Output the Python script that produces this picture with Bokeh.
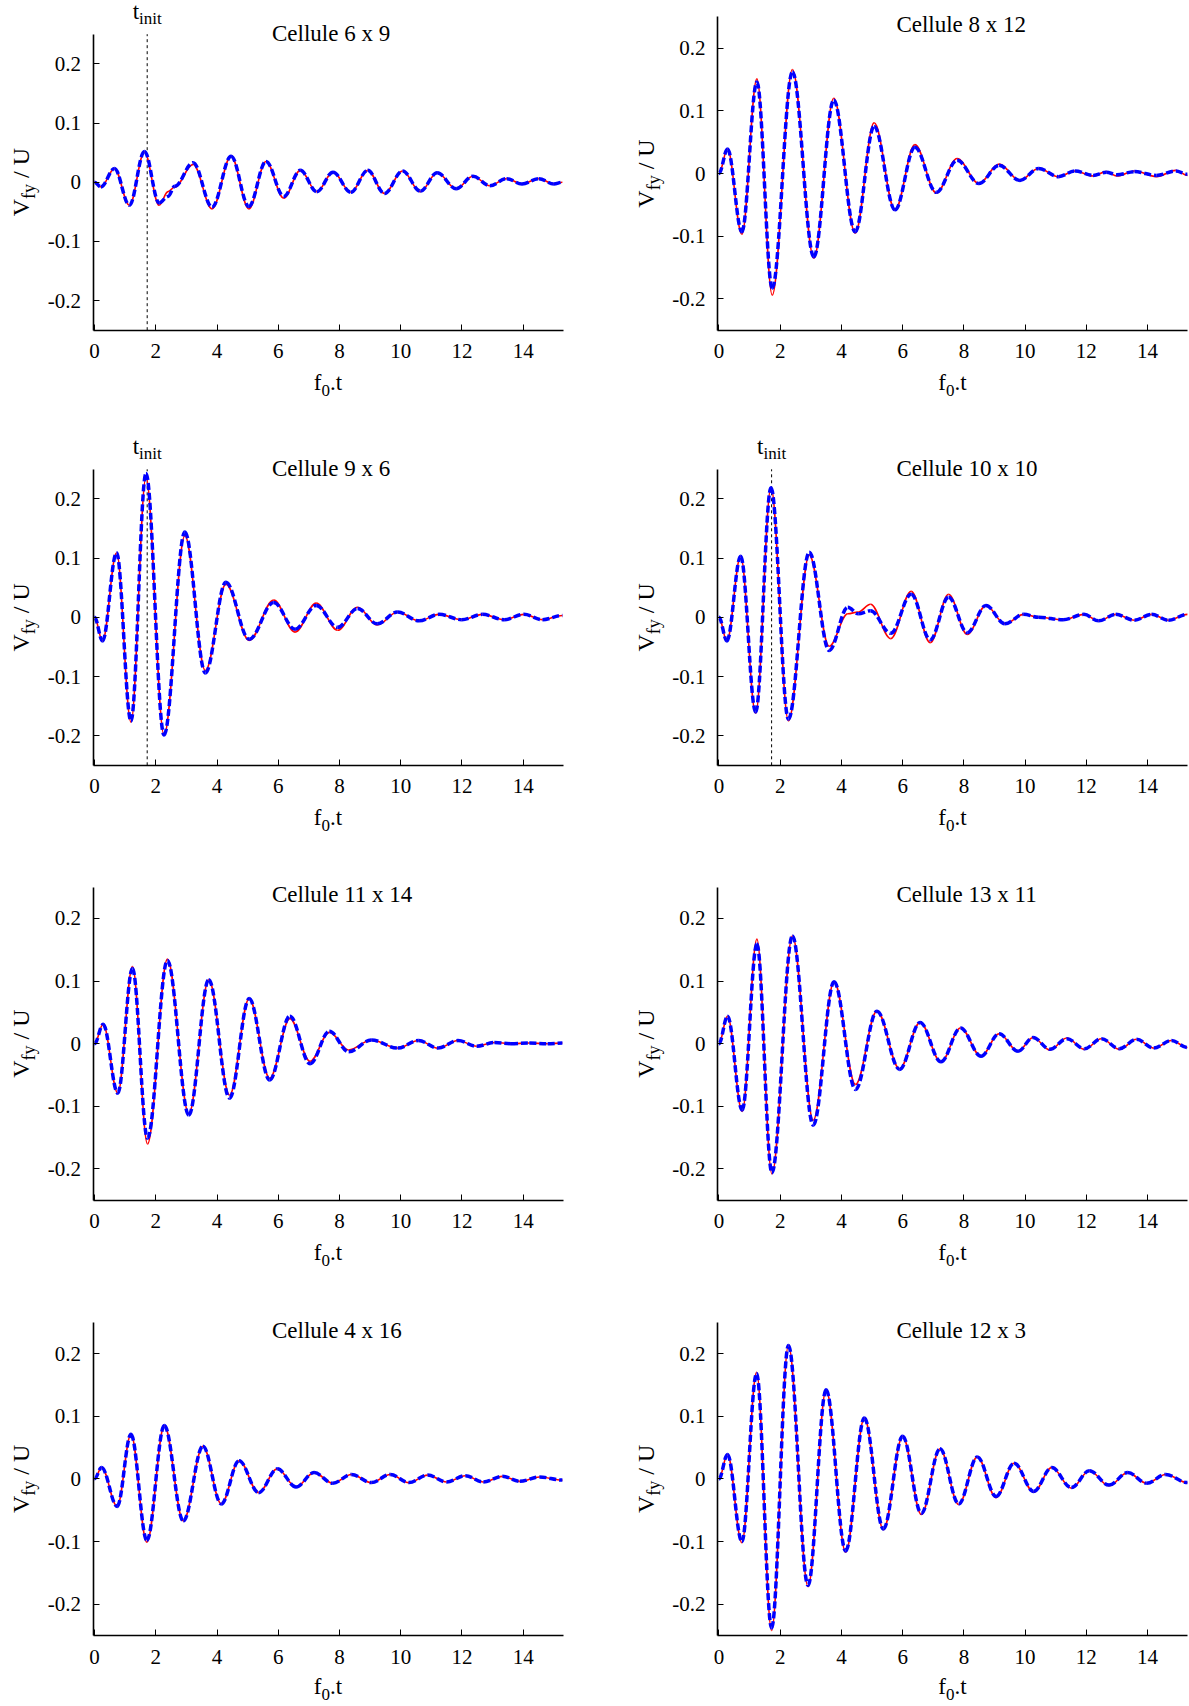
import math
from bokeh.plotting import figure
from bokeh.layouts import column, row
from bokeh.models import Range1d, FixedTicker, Label
from bokeh.embed import file_html
from bokeh.resources import INLINE

# ------------------------------------------------------------------ data
t_6x9 = [0.00, 0.21, 0.65, 1.14, 1.63, 2.11, 2.40, 2.62, 3.22, 3.84, 4.46, 5.04, 5.60, 6.18, 6.72,
         7.26, 7.79, 8.37, 8.92, 9.47, 10.06, 10.64, 11.19, 11.81, 12.36, 12.91, 13.46, 13.96,
         14.51, 15.00, 15.28]
red_6x9 = [0.000, -0.008, 0.023, -0.039, 0.051, -0.039, -0.016, -0.008, 0.030, -0.045, 0.044,
           -0.045, 0.035, -0.027, 0.020, -0.016, 0.017, -0.017, 0.020, -0.019, 0.019, -0.016,
           0.016, -0.011, 0.010, -0.006, 0.006, -0.003, 0.006, -0.003, 0.000]
blue_6x9 = [0.000, -0.008, 0.023, -0.039, 0.052, -0.035, -0.024, -0.007, 0.033, -0.042, 0.044,
            -0.041, 0.035, -0.024, 0.020, -0.016, 0.017, -0.017, 0.020, -0.019, 0.019, -0.015,
            0.016, -0.011, 0.010, -0.006, 0.006, -0.003, 0.006, -0.003, 0.000]

t_8x12 = [0.00, 0.28, 0.75, 1.24, 1.74, 2.40, 3.10, 3.75, 4.45, 5.07, 5.75, 6.40, 7.10, 7.78,
          8.49, 9.15, 9.83, 10.44, 11.09, 11.63, 12.22, 12.65, 13.00, 13.57, 14.29, 14.92, 15.30]
red_8x12 = [0.000, 0.039, -0.097, 0.151, -0.194, 0.166, -0.135, 0.120, -0.095, 0.081, -0.058,
            0.046, -0.031, 0.024, -0.016, 0.015, -0.011, 0.008, -0.005, 0.004, -0.004, 0.003,
            -0.004, 0.004, -0.005, 0.005, -0.003]
blue_8x12 = [0.000, 0.039, -0.093, 0.146, -0.183, 0.162, -0.133, 0.117, -0.093, 0.075, -0.058,
             0.042, -0.030, 0.021, -0.016, 0.013, -0.011, 0.008, -0.005, 0.004, -0.003, 0.002,
             -0.002, 0.003, -0.003, 0.004, -0.001]

t_9x6 = [0.00, 0.26, 0.72, 1.19, 1.68, 2.27, 2.95, 3.62, 4.29, 5.05, 5.85, 6.55, 7.24, 7.94,
         8.59, 9.23, 9.90, 10.60, 11.25, 11.99, 12.67, 13.38, 14.02, 14.63, 15.28]
red_9x6 = [0.000, -0.040, 0.109, -0.177, 0.237, -0.199, 0.138, -0.090, 0.056, -0.039, 0.029,
           -0.025, 0.024, -0.022, 0.017, -0.013, 0.009, -0.006, 0.005, -0.004, 0.005, -0.004,
           0.005, -0.004, 0.003]
blue_9x6 = [0.000, -0.040, 0.109, -0.175, 0.243, -0.199, 0.144, -0.094, 0.059, -0.037, 0.025,
            -0.020, 0.020, -0.017, 0.015, -0.011, 0.009, -0.006, 0.005, -0.004, 0.005, -0.004,
            0.005, -0.004, 0.003]

t_10x10 = [0.00, 0.26, 0.71, 1.20, 1.70, 2.27, 2.95, 3.60, 4.21, 4.55, 4.95, 5.61, 6.28, 6.90,
           7.50, 8.11, 8.72, 9.34, 9.95, 10.44, 11.24, 11.92, 12.40, 12.96, 13.57, 14.13, 14.68,
           15.30]
red_10x10 = [0.000, -0.040, 0.103, -0.162, 0.219, -0.175, 0.105, -0.049, 0.006, 0.009, 0.022,
             -0.036, 0.044, -0.043, 0.039, -0.029, 0.020, -0.011, 0.005, 0.000, -0.004, 0.005,
             -0.006, 0.005, -0.005, 0.005, -0.005, 0.005]
blue_10x10 = [0.000, -0.040, 0.103, -0.160, 0.219, -0.172, 0.110, -0.056, 0.017, 0.006, 0.011,
              -0.027, 0.039, -0.038, 0.034, -0.026, 0.020, -0.011, 0.005, 0.000, -0.004, 0.005,
              -0.006, 0.005, -0.005, 0.005, -0.005, 0.005]

t_11x14 = [0.00, 0.28, 0.76, 1.24, 1.73, 2.38, 3.08, 3.73, 4.41, 5.05, 5.72, 6.38, 7.04, 7.67,
           8.30, 9.04, 9.90, 10.58, 11.22, 11.87, 12.48, 13.06, 13.60, 14.20, 14.80, 15.28]
red_11x14 = [0.000, 0.031, -0.079, 0.123, -0.160, 0.135, -0.112, 0.102, -0.082, 0.072, -0.055,
             0.040, -0.028, 0.018, -0.010, 0.006, -0.007, 0.005, -0.007, 0.005, -0.004, 0.002,
             0.000, 0.001, 0.000, 0.001]
blue_11x14 = [0.000, 0.031, -0.079, 0.120, -0.151, 0.133, -0.114, 0.102, -0.087, 0.072, -0.058,
              0.044, -0.032, 0.020, -0.013, 0.006, -0.007, 0.005, -0.007, 0.005, -0.004, 0.002,
              0.000, 0.001, 0.000, 0.001]

t_13x11 = [0.00, 0.28, 0.76, 1.24, 1.73, 2.40, 3.08, 3.76, 4.46, 5.16, 5.90, 6.57, 7.25, 7.89,
           8.56, 9.15, 9.77, 10.26, 10.81, 11.36, 11.94, 12.49, 13.08, 13.64, 14.20, 14.78, 15.30]
red_13x11 = [0.000, 0.044, -0.108, 0.167, -0.208, 0.172, -0.122, 0.099, -0.065, 0.052, -0.040,
             0.034, -0.029, 0.025, -0.020, 0.016, -0.012, 0.010, -0.010, 0.009, -0.009, 0.008,
             -0.009, 0.007, -0.007, 0.005, -0.006]
blue_13x11 = [0.000, 0.044, -0.106, 0.159, -0.206, 0.172, -0.130, 0.099, -0.073, 0.052, -0.041,
              0.034, -0.029, 0.025, -0.020, 0.016, -0.012, 0.010, -0.009, 0.008, -0.008, 0.008,
              -0.008, 0.007, -0.007, 0.005, -0.006]

t_4x16 = [0.00, 0.23, 0.74, 1.19, 1.71, 2.28, 2.90, 3.54, 4.14, 4.72, 5.36, 5.97, 6.58, 7.17,
          7.78, 8.39, 9.04, 9.66, 10.27, 10.88, 11.50, 12.11, 12.70, 13.32, 13.89, 14.53, 15.28]
red_4x16 = [0.000, 0.018, -0.044, 0.071, -0.101, 0.085, -0.067, 0.052, -0.040, 0.029, -0.022,
            0.016, -0.013, 0.010, -0.007, 0.007, -0.006, 0.007, -0.006, 0.006, -0.005, 0.005,
            -0.005, 0.004, -0.004, 0.003, -0.002]
blue_4x16 = [0.000, 0.018, -0.044, 0.071, -0.098, 0.085, -0.067, 0.052, -0.040, 0.029, -0.022,
             0.016, -0.013, 0.010, -0.007, 0.007, -0.006, 0.007, -0.006, 0.006, -0.005, 0.005,
             -0.005, 0.004, -0.004, 0.003, -0.002]

t_12x3 = [0.00, 0.28, 0.75, 1.23, 1.72, 2.27, 2.91, 3.50, 4.14, 4.75, 5.37, 6.00, 6.61, 7.22,
          7.83, 8.44, 9.05, 9.64, 10.28, 10.87, 11.51, 12.10, 12.74, 13.35, 13.97, 14.59, 15.30]
red_12x3 = [0.000, 0.039, -0.102, 0.170, -0.242, 0.213, -0.172, 0.142, -0.117, 0.097, -0.081,
            0.068, -0.057, 0.048, -0.041, 0.035, -0.030, 0.025, -0.021, 0.018, -0.015, 0.013,
            -0.011, 0.010, -0.007, 0.007, -0.006]
blue_12x3 = [0.000, 0.039, -0.100, 0.168, -0.238, 0.213, -0.170, 0.142, -0.115, 0.097, -0.080,
             0.068, -0.055, 0.048, -0.040, 0.035, -0.028, 0.025, -0.020, 0.018, -0.014, 0.013,
             -0.010, 0.010, -0.007, 0.007, -0.006]

titles = ["Cellule 6 x 9", "Cellule 8 x 12", "Cellule 9 x 6", "Cellule 10 x 10",
          "Cellule 11 x 14", "Cellule 13 x 11", "Cellule 4 x 16", "Cellule 12 x 3"]
T_INIT = 1.72
x_ticks = [0, 2, 4, 6, 8, 10, 12, 14]
y_ticks = [-0.2, -0.1, 0, 0.1, 0.2]
y_tick_labels = ["-0.2", "-0.1", "0", "0.1", "0.2"]
X0, X1 = -0.05, 15.3
Y0, Y1 = -0.25, 0.25

series = [(t_6x9, red_6x9, blue_6x9, True), (t_8x12, red_8x12, blue_8x12, False),
          (t_9x6, red_9x6, blue_9x6, True), (t_10x10, red_10x10, blue_10x10, True),
          (t_11x14, red_11x14, blue_11x14, False), (t_13x11, red_13x11, blue_13x11, False),
          (t_4x16, red_4x16, blue_4x16, False), (t_12x3, red_12x3, blue_12x3, False)]

# ------------------------------------------------------------------ layout / style
FONT = "Liberation Serif"
# per panel: figure height, axes-box top (px), axes-box height (px),
#            title baseline below box top, x-label baseline below box bottom
geom = [
    (420, 33.7, 296.0, 7.0, 60), (420, 16.3, 313.4, 15.4, 60),
    (435, 48.8, 296.0, 6.5, 60), (435, 48.8, 296.0, 6.5, 60),
    (435, 31.6, 313.2, 15.6, 60), (435, 31.6, 313.2, 15.6, 60),
    (414, 31.7, 313.3, 15.6, 59), (414, 31.7, 313.3, 15.6, 59),
]
COLS = [(600, 92.5), (588, 116.9)]  # figure width, axes-box left (px)
BOX_W = 470.0
BASE_SHIFT = 0.3375  # label anchor -> alphabetic baseline distance, in font sizes

CW = {'t': 0.278, 'i': 0.278, 'n': 0.5, 'f': 0.333, 'y': 0.5, 'V': 0.722, 'U': 0.722,
      '/': 0.278, ' ': 0.25, '.': 0.25, '0': 0.5}


def tw(s, size):
    return sum(CW[c] for c in s) * size


def lab(p, text, x, y, xo, yo, size, rotated=False):
    # xo/yo: offset (px) of the text baseline start from the data anchor (y up)
    if rotated:
        xo = xo - BASE_SHIFT * size
        angle = math.pi / 2
    else:
        yo = yo + BASE_SHIFT * size
        angle = 0.0
    p.add_layout(Label(x=x, y=y, x_offset=xo, y_offset=yo, text=text, text_font=FONT,
                       text_font_size=f"{size}px", text_color="black", text_align="left",
                       text_baseline="alphabetic", angle=angle))


def smooth_line(p, t, v, **kw):
    # cubic segments between successive read extrema, flat tangents at each read point
    k = 0.363
    t0, t1, v0, v1 = t[:-1], t[1:], v[:-1], v[1:]
    cx0 = [a + k * (b - a) for a, b in zip(t0, t1)]
    cx1 = [b - k * (b - a) for a, b in zip(t0, t1)]
    p.bezier(x0=t0, y0=v0, x1=t1, y1=v1, cx0=cx0, cy0=v0, cx1=cx1, cy1=v1, **kw)


def make_panel(i):
    t, red, blue, has_init = series[i]
    H, top, bh, title_off, xl_off = geom[i]
    W, left = COLS[i % 2]
    sx = BOX_W / (X1 - X0)
    sy = bh / (Y1 - Y0)
    xr = Range1d(X0 - left / sx, X0 + (W - left) / sx)
    yr = Range1d(Y0 - (H - top - bh) / sy, Y1 + top / sy)
    p = figure(width=W, height=H, x_range=xr, y_range=yr,
               output_backend="svg", toolbar_location=None,
               min_border=0, min_border_left=0, min_border_right=0,
               min_border_top=0, min_border_bottom=0)
    p.grid.visible = False
    p.outline_line_color = None
    p.background_fill_color = "white"
    p.border_fill_color = "white"
    p.xaxis.ticker = FixedTicker(ticks=x_ticks)
    p.yaxis.ticker = FixedTicker(ticks=y_ticks)
    p.yaxis.major_label_overrides = {v: s for v, s in zip(y_ticks, y_tick_labels)}
    p.xaxis.fixed_location = Y0
    p.yaxis.fixed_location = X0
    p.xaxis.bounds = (X0, X1)
    p.yaxis.bounds = (Y0, Y1)
    for ax in (p.xaxis[0], p.yaxis[0]):
        ax.axis_line_width = 1.6
        ax.axis_line_color = "black"
        ax.major_tick_in = 6
        ax.major_tick_out = 0
        ax.minor_tick_in = 0
        ax.minor_tick_out = 0
        ax.major_tick_line_color = "black"
        ax.major_tick_line_width = 1
        ax.major_label_text_font = FONT
        ax.major_label_text_font_size = "21px"
        ax.major_label_text_color = "black"
    p.xaxis.major_label_standoff = 14
    p.yaxis.major_label_standoff = 12

    if has_init:
        p.segment(x0=[T_INIT], y0=[Y0], x1=[T_INIT], y1=[Y1], line_color="black",
                  line_width=1, line_dash="3 3")
        F, Fs = 23, 17
        w = tw("t", F) + tw("init", Fs)
        lab(p, "t", T_INIT, Y1, -w / 2, 15, F)
        lab(p, "init", T_INIT, Y1, -w / 2 + tw("t", F), 10, Fs)

    smooth_line(p, t, red, line_color="#ff0000", line_width=1.6)
    smooth_line(p, t, blue, line_color="#0000ff", line_width=3.5, line_dash="7 3")

    # title
    lab(p, titles[i], X0, Y1, 179, -title_off, 23)

    # x label  f0.t
    F, Fs = 23, 17
    w = tw("f", F) + tw("0", Fs) + tw(".t", F)
    xm = (X0 + X1) / 2
    x0 = -w / 2
    lab(p, "f", xm, Y0, x0, -xl_off, F)
    lab(p, "0", xm, Y0, x0 + tw("f", F), -xl_off - 6, Fs)
    lab(p, ".t", xm, Y0, x0 + tw("f", F) + tw("0", Fs), -xl_off, F)

    # y label  Vfy / U  (rotated, reading upwards)
    F, Fs = 24, 18
    L = tw("V", F) + tw("fy", Fs) + tw(" / U", F)
    s0 = -L / 2
    lab(p, "V", X0, 0, -63.5, s0, F, True)
    lab(p, "fy", X0, 0, -57.5, s0 + tw("V", F), Fs, True)
    lab(p, "/ U", X0, 0, -63.5, s0 + tw("V", F) + tw("fy", Fs) + tw(" ", F), F, True)
    return p


figs = [make_panel(i) for i in range(8)]
layout = column(row(figs[0], figs[1]), row(figs[2], figs[3]),
                row(figs[4], figs[5]), row(figs[6], figs[7]))

open("out.html", "w").write(file_html(layout, INLINE))
